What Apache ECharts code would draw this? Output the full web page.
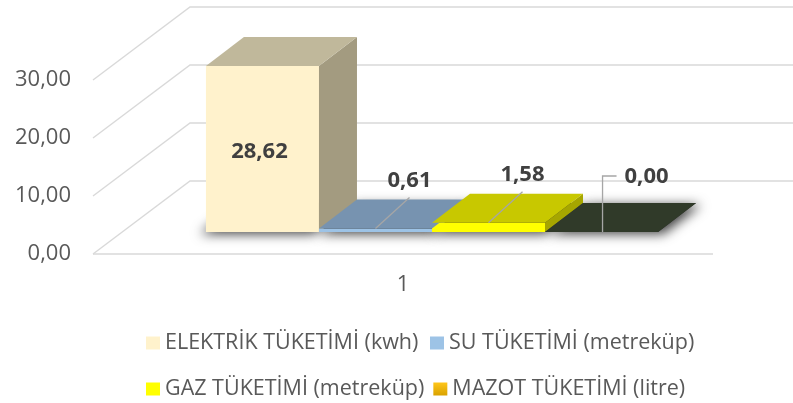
<!DOCTYPE html>
<html>
<head>
<meta charset="utf-8">
<script src="https://cdn.jsdelivr.net/npm/echarts@6/dist/echarts.min.js"></script>
<style>
  html, body { margin: 0; padding: 0; background: #fff; }
  #chart { width: 793px; height: 403px; }
</style>
</head>
<body>
<div id="chart"></div>
<script>
// 数据
const categories = ['1'];
const seriesNames = [
  'ELEKTRİK TÜKETİMİ (kwh)',
  'SU TÜKETİMİ (metreküp)',
  'GAZ TÜKETİMİ (metreküp)',
  'MAZOT TÜKETİMİ (litre)'
];
const elektrik = [28.62];
const su = [0.61];
const gaz = [1.58];
const mazot = [0.00];
const yTicks = [0, 10, 20, 30];

// 3D 外观
const faceColors = [
  { front: '#FFF2CC', top: '#C0B89B', side: '#A39B80' },
  { front: '#9DC3E6', top: '#7793B0', side: '#6A84A0' },
  { front: '#FFFF00', top: '#C8C800', side: '#A6A600' },
  { front: '#303A29', top: '#303A29', side: '#303A29' }
];
const labelMode = ['inside', 'leader', 'leader', 'elbow'];
const FONT = '"Open Sans", "Noto Sans", sans-serif';
const TEXT_GREY = '#595959';
const LABEL_GREY = '#404040';
const GRID_GREY = '#D9D9D9';
const BAR_FRAC = 0.1823;       // bar width / band width
const FRONT_DX = 29, FRONT_DY = -22;   // bar front plane offset
const BAR_DX = 38, BAR_DY = -29;       // bar depth
const WALL_DX = 97, WALL_DY = -73;     // floor depth

const fmt = v => v.toFixed(2).replace('.', ',');

const chart = echarts.init(document.getElementById('chart'));

function barRender(idx) {
  return function (params, api) {
    const v = api.value(1);
    const base = api.coord([0, 0]);
    const top = api.coord([0, v]);
    const band = api.size([1, 0])[0];
    const bw = band * BAR_FRAC;
    const x0 = base[0] - 2 * bw + idx * bw + FRONT_DX;
    const x1 = x0 + bw;
    const yb = base[1] + FRONT_DY;
    const yt = top[1] + FRONT_DY;
    const c = faceColors[idx];
    const children = [];

    // 地面阴影
    children.push({
      type: 'polygon',
      z2: -5,
      shape: { points: [[x0, yb], [x0 + BAR_DX, yb + BAR_DY], [x1 + BAR_DX, yb + BAR_DY], [x1, yb]] },
      style: {
        fill: '#2a2a2a',
        shadowBlur: 12,
        shadowColor: 'rgba(0,0,0,0.75)',
        shadowOffsetX: idx === 0 ? -6 : (idx === 3 ? 5 : 0),
        shadowOffsetY: 2
      }
    });
    if (yb - yt > 0.5) {
      children.push({
        type: 'rect', z2: 10,
        shape: { x: x0, y: yt, width: bw, height: yb - yt },
        style: { fill: c.front }
      });
      children.push({
        type: 'polygon', z2: 10,
        shape: { points: [[x1, yt], [x1 + BAR_DX, yt + BAR_DY], [x1 + BAR_DX, yb + BAR_DY], [x1, yb]] },
        style: { fill: c.side }
      });
    }
    children.push({
      type: 'polygon', z2: 11,
      shape: { points: [[x0, yt], [x0 + BAR_DX, yt + BAR_DY], [x1 + BAR_DX, yt + BAR_DY], [x1, yt]] },
      style: { fill: c.top }
    });

    const txtStyle = {
      text: fmt(v),
      fill: LABEL_GREY,
      font: 'bold 22px ' + FONT,
      align: 'center',
      verticalAlign: 'middle'
    };
    const mode = labelMode[idx];
    const cx = (x0 + x1) / 2;
    if (mode === 'inside') {
      children.push({ type: 'text', z2: 20, x: cx - 3, y: (yt + yb) / 2 + 3, style: txtStyle });
    } else if (mode === 'leader') {
      const sx = cx, sy = yt;
      const ex = sx + 34, ey = sy - 31;
      children.push({
        type: 'line', z2: 20,
        shape: { x1: sx, y1: sy, x2: ex, y2: ey },
        style: { stroke: '#A6A6A6', lineWidth: 1.3 }
      });
      children.push({ type: 'text', z2: 20, x: ex, y: ey - 17, style: txtStyle });
    } else {
      const sx = cx + 1, sy = yb;
      const ey = sy - 56, ex = sx + 14;
      children.push({
        type: 'polyline', z2: 20,
        shape: { points: [[sx, sy], [sx, ey], [ex, ey]] },
        style: { stroke: '#A6A6A6', lineWidth: 1.3, fill: null }
      });
      children.push({
        type: 'text', z2: 20, x: ex + 8, y: ey + 1,
        style: Object.assign({}, txtStyle, { align: 'left' })
      });
    }
    return { type: 'group', children: children };
  };
}

function gridRender(params, api) {
  const v = api.value(0);
  const p = api.coord([0, v]);
  const band = api.size([1, 0])[0];
  const left = p[0] - band / 2;
  const children = [{
    type: 'polyline', z2: -20,
    shape: { points: [[left, p[1]], [left + WALL_DX, p[1] + WALL_DY], [api.getWidth(), p[1] + WALL_DY]] },
    style: { stroke: GRID_GREY, lineWidth: 1.4, fill: null }
  }];
  if (v === 0) {
    children.push({
      type: 'line', z2: -20,
      shape: { x1: left, y1: p[1], x2: left + band, y2: p[1] },
      style: { stroke: GRID_GREY, lineWidth: 1.4 }
    });
  }
  return { type: 'group', children: children };
}

const legendColors = [
  '#FFF2CC',
  '#9DC3E6',
  '#FFFF00',
  new echarts.graphic.LinearGradient(0, 0, 0, 1, [
    { offset: 0, color: '#FFC61A' },
    { offset: 1, color: '#D9A200' }
  ])
];

const values = [elektrik, su, gaz, mazot];

const legendBase = {
  left: 146,
  padding: 0,
  orient: 'horizontal',
  icon: 'rect',
  itemWidth: 14,
  itemHeight: 13,
  itemGap: 9,
  selectedMode: false,
  textStyle: { fontFamily: FONT, fontSize: 21.5, color: TEXT_GREY, width: 256, lineHeight: 24 }
};

chart.setOption({
  animation: false,
  backgroundColor: '#fff',
  grid: { left: 93, right: 80, top: 80, bottom: 149 },
  legend: [
    Object.assign({}, legendBase, { top: 331, data: [seriesNames[0], seriesNames[1]] }),
    Object.assign({}, legendBase, { top: 377, data: [seriesNames[2], seriesNames[3]] })
  ],
  xAxis: {
    type: 'category',
    data: categories,
    axisLine: { show: false },
    axisTick: { show: false },
    axisLabel: { margin: 20, fontFamily: FONT, fontSize: 22, color: TEXT_GREY }
  },
  yAxis: {
    type: 'value',
    min: 0,
    max: 30,
    interval: 10,
    axisLine: { show: false },
    axisTick: { show: false },
    splitLine: { show: false },
    axisLabel: { margin: 22, fontFamily: FONT, fontSize: 22, color: TEXT_GREY, formatter: fmt }
  },
  series: [{
    type: 'custom',
    name: 'grid',
    silent: true,
    encode: { x: 1, y: 0 },
    data: yTicks.map(t => [t, 0]),
    renderItem: gridRender
  }].concat(seriesNames.map((name, i) => ({
    type: 'custom',
    name: name,
    itemStyle: { color: legendColors[i] },
    encode: { x: 0, y: 1 },
    data: values[i].map((v, k) => [k, v]),
    renderItem: barRender(i)
  })))
});
</script>
</body>
</html>
